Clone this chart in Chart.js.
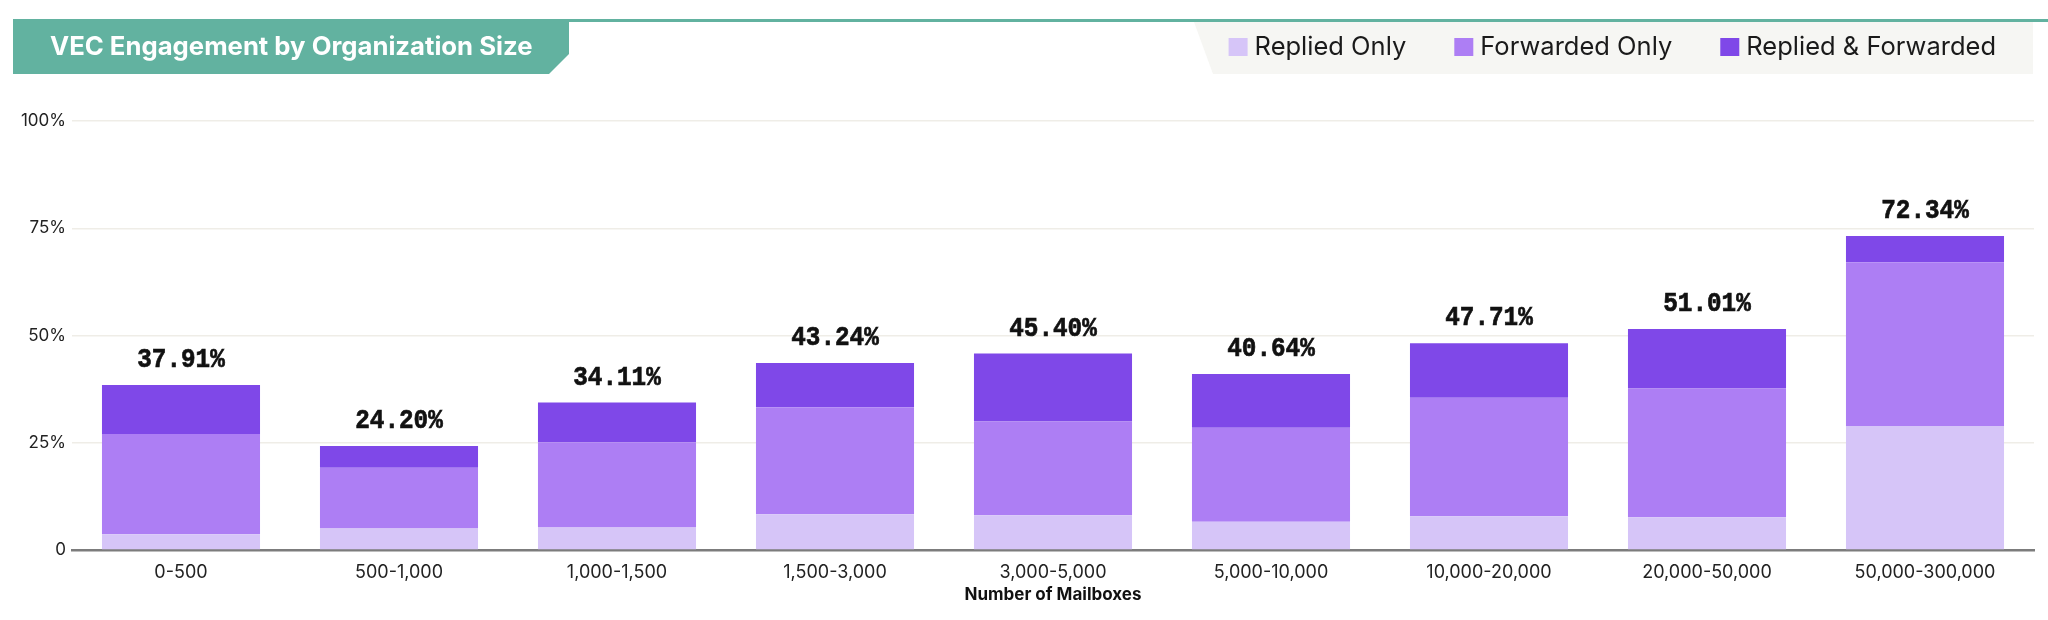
<!DOCTYPE html>
<html><head><meta charset="utf-8">
<script src="https://cdn.jsdelivr.net/npm/chart.js@4.4.1/dist/chart.umd.min.js"></script>
<style>html,body{margin:0;padding:0;background:#fff;}#wrap{width:2048px;height:620px;position:relative;}</style>
</head><body><div id="wrap"><canvas id="c" width="2048" height="620"></canvas></div>
<script>
const categories = ['0-500','500-1,000','1,000-1,500','1,500-3,000','3,000-5,000','5,000-10,000','10,000-20,000','20,000-50,000','50,000-300,000'];
const repliedOnly = [3.66, 5.00, 5.24, 8.35, 8.10, 6.57, 7.88, 7.65, 28.90];
const forwardedOnly = [23.38, 14.20, 19.89, 24.95, 21.85, 21.93, 27.60, 30.00, 38.16];
const repliedAndForwarded = [11.42, 5.06, 9.25, 10.30, 15.85, 12.50, 12.70, 13.85, 6.13];
const totalLabels = ['37.91%','24.20%','34.11%','43.24%','45.40%','40.64%','47.71%','51.01%','72.34%'];
const seriesNames = ['Replied Only','Forwarded Only','Replied & Forwarded'];
const seriesColors = ['#d6c5f8','#ad7ef4','#7f48e8'];
const yTicks = [0, 25, 50, 75, 100];
const chartTitle = 'VEC Engagement by Organization Size';
const xAxisTitle = 'Number of Mailboxes';

const headerPlugin = {
  id: 'header',
  beforeDraw(chart) {
    const ctx = chart.ctx;
    ctx.save();
    ctx.fillStyle = '#ffffff';
    ctx.fillRect(0, 0, chart.width, chart.height);
    ctx.fillStyle = '#62b2a0';
    ctx.fillRect(13, 19, chart.width - 13, 3);
    ctx.beginPath();
    ctx.moveTo(13, 19); ctx.lineTo(569, 19); ctx.lineTo(569, 54); ctx.lineTo(549, 74); ctx.lineTo(13, 74);
    ctx.closePath(); ctx.fill();
    ctx.fillStyle = '#ffffff';
    ctx.font = 'bold 25.7px Inter';
    ctx.textBaseline = 'middle';
    ctx.textAlign = 'left';
    ctx.fillText(chartTitle, 50, 47);
    ctx.fillStyle = '#f6f6f3';
    ctx.beginPath();
    ctx.moveTo(1194, 22); ctx.lineTo(2033, 22); ctx.lineTo(2033, 74); ctx.lineTo(1213, 74);
    ctx.closePath(); ctx.fill();
    ctx.font = '25.5px Inter';
    const items = chart.data.datasets.map(d => ({label: d.label, color: d.backgroundColor}));
    let x = 1996;
    for (let i = items.length - 1; i >= 0; i--) {
      const w = ctx.measureText(items[i].label).width;
      const tx = x - w;
      ctx.fillStyle = '#1a1a1a';
      ctx.fillText(items[i].label, tx, 47);
      ctx.fillStyle = items[i].color;
      ctx.fillRect(tx - 7 - 19, 38, 19, 18);
      x = tx - 7 - 19 - 48;
    }
    ctx.restore();
  }
};

const totalsPlugin = {
  id: 'totals',
  afterDatasetsDraw(chart) {
    const ctx = chart.ctx;
    const meta = chart.getDatasetMeta(chart.data.datasets.length - 1);
    ctx.save();
    ctx.font = 'bold 27px "Liberation Mono"';
    ctx.fillStyle = '#111111';
    ctx.strokeStyle = '#111111';
    ctx.lineWidth = 0.7;
    ctx.textAlign = 'center';
    ctx.textBaseline = 'alphabetic';
    meta.data.forEach((el, i) => {
      ctx.save();
      ctx.translate(el.x, el.y - 18);
      ctx.scale(0.9, 1);
      ctx.fillText(totalLabels[i], 0, 0);
      ctx.strokeText(totalLabels[i], 0, 0);
      ctx.restore();
    });
    ctx.restore();
  }
};

new Chart(document.getElementById('c'), {
  type: 'bar',
  data: {
    labels: categories,
    datasets: [
      {label: seriesNames[0], data: repliedOnly, backgroundColor: seriesColors[0]},
      {label: seriesNames[1], data: forwardedOnly, backgroundColor: seriesColors[1]},
      {label: seriesNames[2], data: repliedAndForwarded, backgroundColor: seriesColors[2]}
    ]
  },
  options: {
    responsive: false,
    animation: false,
    devicePixelRatio: 1,
    layout: {padding: {top: 121, right: 14, bottom: 0, left: 0}},
    datasets: {bar: {barPercentage: 0.725, categoryPercentage: 1.0, borderWidth: 0}},
    plugins: {legend: {display: false}, title: {display: false}, tooltip: {enabled: false}},
    scales: {
      x: {
        stacked: true,
        grid: {display: false},
        border: {display: true, color: '#7c7c7c', width: 2.5},
        ticks: {color: '#222222', font: {family: 'Inter', size: 18}, padding: 4, maxRotation: 0, autoSkip: false},
        title: {display: true, text: xAxisTitle, color: '#111111', font: {family: 'Inter', size: 17, weight: 'bold'}, padding: {top: 0, bottom: 15}},
        afterFit(scale) { scale.height = 70; }
      },
      y: {
        stacked: true,
        min: 0, max: 100,
        afterBuildTicks(scale) { scale.ticks = yTicks.map(v => ({value: v})); },
        grid: {color: (c) => c.tick && c.tick.value === 0 ? 'rgba(0,0,0,0)' : '#efede7', lineWidth: 1.5, drawTicks: false},
        border: {display: false},
        ticks: {color: '#222222', font: {family: 'Inter', size: 17}, padding: 6, callback: (v) => v === 0 ? '0' : v + '%'},
        afterFit(scale) { scale.width = 72; }
      }
    }
  },
  plugins: [headerPlugin, totalsPlugin]
});
</script>
</body></html>
